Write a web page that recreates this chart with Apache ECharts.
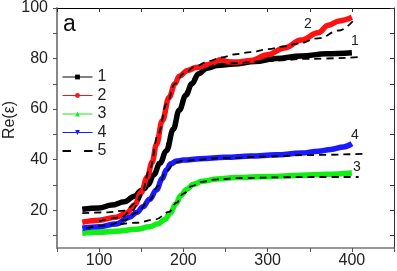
<!DOCTYPE html>
<html>
<head>
<meta charset="utf-8">
<script src="https://cdn.jsdelivr.net/npm/echarts@6/dist/echarts.min.js"></script>
<style>
html, body { margin: 0; padding: 0; background: #fff; }
#chart { width: 397px; height: 271px; }
</style>
</head>
<body>
<div id="chart"></div>
<script>
// measured curves (temperature, Re(eps))
var x1 = [80, 100, 115, 130, 142, 150, 158, 165, 172, 180, 188, 195, 203, 210, 218, 228, 240, 260, 285, 310, 340, 370, 400];
var y1 = [20.3, 20.8, 22, 23.3, 25.5, 27.8, 30, 34, 38.5, 43.5, 52, 59.5, 65.5, 70, 74, 76.2, 77.2, 77.8, 78.8, 80, 81, 81.9, 82.3];

var x2 = [80, 100, 120, 133, 142, 150, 157, 163, 168, 175, 183, 190, 195, 205, 215, 230, 245, 252, 265, 280, 300, 320, 340, 360, 372, 385, 400];
var y2 = [15.2, 16, 17.2, 19, 22, 27, 33, 39, 46, 55.4, 64.6, 70, 73, 75.3, 76.4, 77.6, 79.6, 78.7, 78.6, 79.2, 81.5, 84.2, 87.3, 90.2, 93.2, 94.9, 96.3];

var x3 = [80, 100, 120, 144, 160, 170, 178, 185, 191, 197, 204, 212, 222, 240, 262, 300, 340, 370, 400];
var y3 = [10.8, 11.2, 11.6, 12.4, 13.4, 14.6, 16.3, 19, 22.5, 25.8, 28.3, 30.2, 31.4, 32.3, 32.9, 33.3, 33.8, 34.2, 34.7];

var x4 = [80, 100, 120, 136, 145, 152, 160, 168, 175, 180, 185, 192, 200, 220, 250, 280, 310, 340, 360, 375, 390, 400];
var y4 = [12.8, 13.4, 14.5, 17.2, 19.2, 21.3, 24.3, 28, 32.5, 36, 38.3, 39.4, 39.8, 40.3, 40.9, 41.4, 41.9, 42.6, 43.3, 44, 45, 46.3];

// fitted curves (dashed, "5")
var fx1 = [80, 110, 130, 145, 155, 165, 175, 185, 195, 205, 215, 225, 240, 260, 300, 350, 411];
var fy1 = [18.8, 19.1, 19.8, 23, 28, 34, 40, 50, 60, 67.5, 73, 76, 77.6, 78.2, 79, 79.9, 80.6];
var fx2 = [100, 125, 140, 150, 160, 170, 180, 190, 200, 215, 230, 245, 262, 280, 301, 320, 336, 360, 385, 403];
var fy2 = [15.5, 17, 20, 26, 36, 50, 62, 70, 74, 77, 79, 80.4, 81.7, 82.5, 83.7, 84.8, 85.9, 88, 91.1, 95.5];
var fx3 = [125, 144, 167, 183, 192, 200, 210, 222, 240, 270, 320, 360, 408];
var fy3 = [14.4, 15, 16.3, 19.3, 23, 26.5, 29.5, 31.2, 32.2, 32.7, 33, 33.1, 33.1];
var fx4 = [85, 110, 130, 145, 160, 170, 180, 190, 200, 250, 300, 350, 415];
var fy4 = [12.9, 14, 16, 19, 24, 29.5, 35.5, 38.8, 39.6, 40.6, 41.2, 41.8, 42.3];

var xLabels = [100, 200, 300, 400];
var yLabels = [20, 40, 60, 80, 100];
var yTickVals = [10, 20, 30, 40, 50, 60, 70, 80, 90, 100];

function pairs(xs, ys) {
  return xs.map(function (x, i) { return [x, ys[i]]; });
}

var font = 'Liberation Sans, Arial, sans-serif';
var myChart = echarts.init(document.getElementById('chart'));

function curve(name, xs, ys, color, symbol) {
  return {
    name: name, type: 'line', data: pairs(xs, ys),
    showSymbol: false, symbol: symbol, smooth: 0.4, smoothMonotone: 'x',
    color: color, lineStyle: { color: color, width: 5.5 }, z: 2
  };
}
function fit(xs, ys) {
  return {
    name: '5', type: 'line', data: pairs(xs, ys),
    showSymbol: false, symbol: 'none', smooth: 0.4, smoothMonotone: 'x',
    color: '#000', lineStyle: { color: '#000', width: 1.8, type: [7, 5] }, z: 3
  };
}

function note(text, x, y) {
  return { type: 'text', x: x, y: y, style: { text: text, fontSize: 14, fill: '#222', align: 'center', verticalAlign: 'middle', fontFamily: font } };
}

myChart.setOption({
  animation: false,
  textStyle: { fontFamily: font },
  grid: { left: 57, right: 2, top: 7, bottom: 23 },
  legend: {
    left: 62, top: 69, orient: 'vertical', padding: 0,
    itemWidth: 30, itemHeight: 6, itemGap: 2.5, selectedMode: false,
    lineStyle: { width: 1 },
    textStyle: { fontSize: 16, lineHeight: 16, color: '#222', fontFamily: font },
    data: [
      { name: '1' }, { name: '2' }, { name: '3' }, { name: '4' },
      { name: '5', icon: 'path://M0,0h7v1.6h-7z M18,0h7v1.6h-7z' }
    ]
  },
  xAxis: [{
    type: 'value', min: 50, max: 450, interval: 50,
    axisLine: { lineStyle: { color: '#777', width: 1.5 } },
    axisTick: { show: true, length: 4, lineStyle: { color: '#555' } },
    axisLabel: {
      fontSize: 16, color: '#222', margin: 5, fontFamily: font,
      formatter: function (v) { return xLabels.indexOf(v) >= 0 ? String(v) : ''; }
    },
    splitLine: { show: false }
  }, {
    type: 'value', position: 'top', min: 50, max: 450, interval: 50,
    axisLine: { show: true, onZero: false, lineStyle: { color: '#000', width: 1 } },
    axisTick: { show: true, inside: true, length: 4, lineStyle: { color: '#333' } },
    axisLabel: { show: false }, splitLine: { show: false }
  }],
  yAxis: [{
    type: 'value', min: 5, max: 100,
    axisLine: { show: true, lineStyle: { color: '#888', width: 2 } },
    axisTick: { show: true, length: 4, customValues: yTickVals, lineStyle: { color: '#555' } },
    axisLabel: { fontSize: 16, color: '#222', margin: 9, customValues: yLabels, fontFamily: font },
    splitLine: { show: false }
  }, {
    type: 'value', position: 'right', min: 5, max: 100,
    axisLine: { show: true, onZero: false, lineStyle: { color: '#333', width: 1 } },
    axisTick: { show: true, inside: true, length: 4, customValues: yTickVals, lineStyle: { color: '#333' } },
    axisLabel: { show: false }, splitLine: { show: false }
  }],
  graphic: [
    { type: 'text', left: 63, top: 13, style: { text: 'a', fontSize: 23, fill: '#111', fontFamily: font } },
    {
      type: 'text', x: 10, y: 120, rotation: Math.PI / 2,
      style: { text: 'Re(\u03b5)', fontSize: 16, fill: '#222', align: 'center', verticalAlign: 'middle', fontFamily: font }
    },
    note('2', 308, 24),
    note('1', 355, 41),
    note('4', 355, 135),
    note('3', 357, 167)
  ],
  series: [
    curve('1', x1, y1, '#000000', 'rect'),
    curve('3', x3, y3, '#11ee11', 'triangle'),
    curve('4', x4, y4, '#1a1aff', 'path://M0,0L10,0L5,9Z'),
    curve('2', x2, y2, '#ff1111', 'circle'),
    fit(fx1, fy1),
    fit(fx2, fy2),
    fit(fx3, fy3),
    fit(fx4, fy4)
  ]
});
</script>
</body>
</html>
